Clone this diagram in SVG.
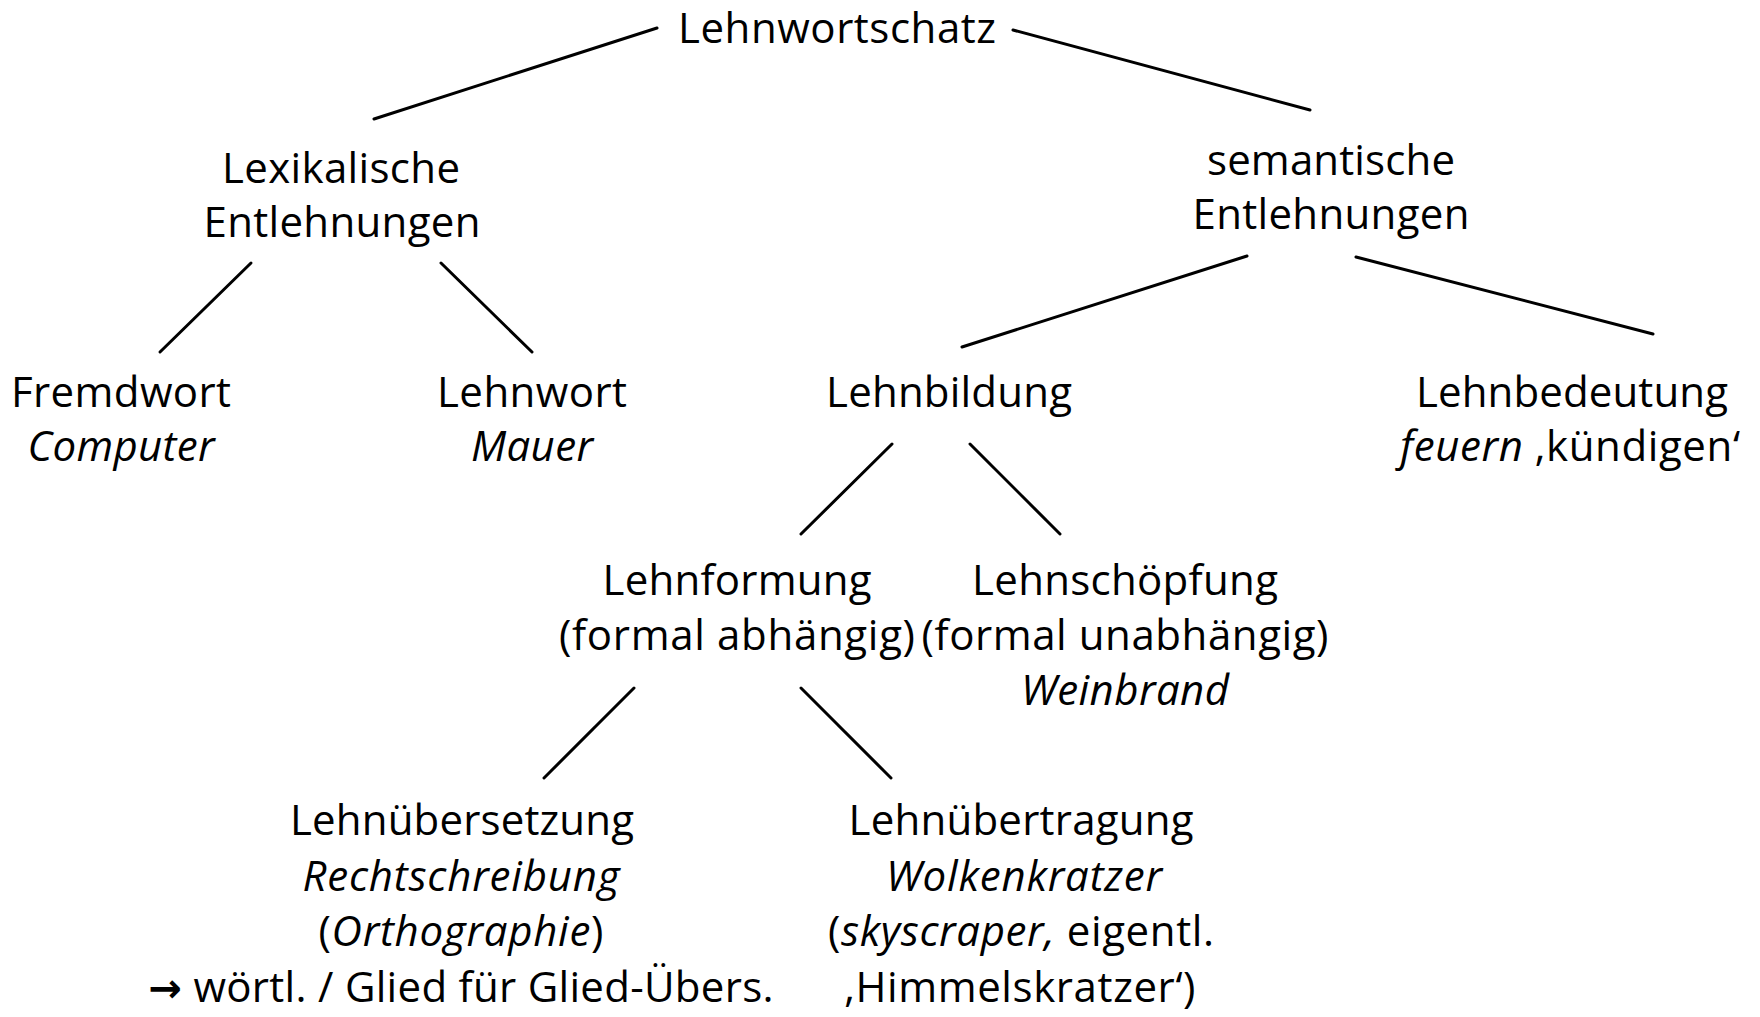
<svg xmlns="http://www.w3.org/2000/svg" width="1760" height="1017" viewBox="0 0 1760 1017">
<style>
text{font-family:"Open Sans","Liberation Sans",sans-serif;font-size:42px;fill:#000;text-anchor:middle}
.i{font-style:italic}
.ar{font-family:"DejaVu Sans",sans-serif;font-size:40px;font-weight:bold}
.c{stroke:#000;stroke-width:3;stroke-linecap:round;fill:none}
</style>
<rect width="1760" height="1017" fill="#fff"/>
<g id="connectors">
<line class="c" x1="374" y1="119" x2="657" y2="28"/>
<line class="c" x1="1013" y1="30" x2="1310" y2="110"/>
<line class="c" x1="251" y1="263" x2="160" y2="352"/>
<line class="c" x1="441" y1="263" x2="532" y2="352"/>
<line class="c" x1="1247" y1="256" x2="962" y2="347"/>
<line class="c" x1="1356" y1="257" x2="1653" y2="334"/>
<line class="c" x1="892" y1="444" x2="801" y2="534"/>
<line class="c" x1="970" y1="444" x2="1060" y2="534"/>
<line class="c" x1="634" y1="688" x2="544" y2="778"/>
<line class="c" x1="801" y1="688" x2="891" y2="778"/>
</g>
<g id="lehnwortschatz"><text x="837" y="43" textLength="318">Lehnwortschatz</text></g>
<g id="lexikalische">
<text x="341" y="183" textLength="238">Lexikalische</text>
<text x="342" y="237" textLength="277">Entlehnungen</text>
</g>
<g id="semantische">
<text x="1331" y="175" textLength="248">semantische</text>
<text x="1331" y="229" textLength="277">Entlehnungen</text>
</g>
<g id="fremdwort">
<text x="121" y="407" textLength="220">Fremdwort</text>
<text class="i" x="121" y="461" textLength="187">Computer</text>
</g>
<g id="lehnwort">
<text x="532" y="407" textLength="190">Lehnwort</text>
<text class="i" x="532" y="461" textLength="122">Mauer</text>
</g>
<g id="lehnbildung">
<text x="949" y="407" textLength="246">Lehnbildung</text>
</g>
<g id="lehnbedeutung">
<text x="1572" y="407" textLength="312">Lehnbedeutung</text>
<text x="1570" y="461" textLength="340"><tspan class="i">feuern</tspan> ‚kündigen‘</text>
</g>
<g id="lehnformung">
<text x="737" y="595" textLength="269">Lehnformung</text>
<text x="737" y="650" textLength="356">(formal abhängig)</text>
</g>
<g id="lehnschoepfung">
<text x="1125" y="595" textLength="306">Lehnschöpfung</text>
<text x="1125" y="650" textLength="407">(formal unabhängig)</text>
<text class="i" x="1125" y="705" textLength="208">Weinbrand</text>
</g>
<g id="lehnuebersetzung">
<text x="462" y="835" textLength="344">Lehnübersetzung</text>
<text class="i" x="461" y="891" textLength="317">Rechtschreibung</text>
<text x="461" y="946" textLength="285">(<tspan class="i">Orthographie</tspan>)</text>
<text x="461" y="1002" textLength="625"><tspan class="ar">→</tspan> wörtl. / Glied für Glied-Übers.</text>
</g>
<g id="lehnuebertragung">
<text x="1021" y="835" textLength="345">Lehnübertragung</text>
<text class="i" x="1024" y="891" textLength="276">Wolkenkratzer</text>
<text x="1021" y="946" textLength="386">(<tspan class="i">skyscraper,</tspan> eigentl.</text>
<text x="1020" y="1002" textLength="351">‚Himmelskratzer‘)</text>
</g>
</svg>
